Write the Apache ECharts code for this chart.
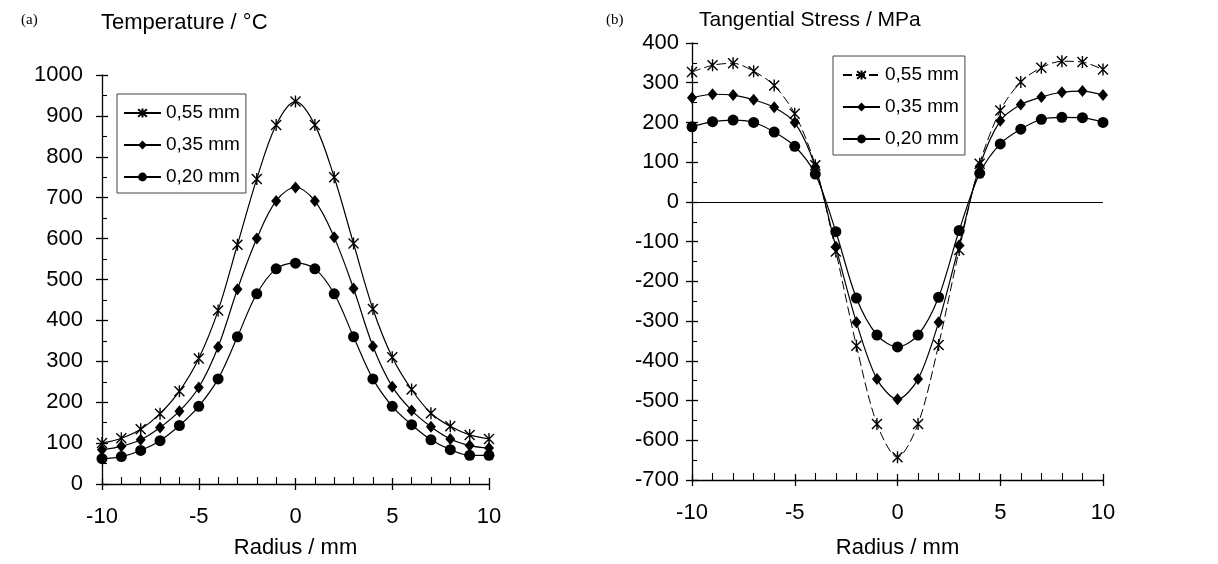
<!DOCTYPE html>
<html>
<head>
<meta charset="utf-8">
<script src="https://cdn.jsdelivr.net/npm/echarts@6/dist/echarts.min.js"></script>
<style>
html,body{margin:0;padding:0;background:#fff;}
#chart{width:1218px;height:564px;}
</style>
</head>
<body>
<div id="chart"></div>
<script>
// ---- data ----
const radius = [-10,-9,-8,-7,-6,-5,-4,-3,-2,-1,0,1,2,3,4,5,6,7,8,9,10];
const seriesNames = ['0,55 mm','0,35 mm','0,20 mm'];
const temp055 = [100,112,134,172,227,307,424,585,746,878,935,878,750,588,428,310,231,173,141,120,110];
const temp035 = [84,92,108,138,178,236,335,476,600,692,725,692,603,478,337,238,180,140,110,94,88];
const temp020 = [62,67,82,106,143,190,257,360,465,526,540,526,465,360,257,190,145,108,84,70,70];
const stress055 = [327,344,349,329,293,222,92,-125,-362,-559,-643,-559,-360,-121,96,230,302,338,354,352,333];
const stress035 = [262,271,269,257,238,200,88,-113,-303,-446,-497,-446,-303,-109,90,204,245,264,276,279,269];
const stress020 = [189,202,206,200,176,140,70,-75,-242,-335,-365,-335,-240,-72,72,146,183,208,213,212,200];
const titleA = 'Temperature / °C';
const titleB = 'Tangential Stress / MPa';
const xName = 'Radius / mm';

const pair = arr => radius.map((r,i)=>[r,arr[i]]);
const FONT = 'Liberation Sans, Arial, sans-serif';
const FS = 22;
const starPath = 'path://M0,0L10,10M10,0L0,10M5,-1L5,11';

function mkSeries(name, data, xi, yi, kind, dashed, smooth){
  const s = {
    name, type:'line', xAxisIndex:xi, yAxisIndex:yi, data:pair(data),
    smooth: smooth, animation:false,
    lineStyle:{color:'#000', width:1.2, type: dashed ? [9,4] : 'solid'},
    symbolKeepAspect:true
  };
  if(kind==='star'){
    s.symbol = starPath; s.symbolSize = 12;
    s.itemStyle = {color:'rgba(0,0,0,0)', borderColor:'#000', borderWidth:1.4};
  } else if(kind==='diamond'){
    s.symbol = 'diamond'; s.symbolSize = [10,12];
    s.itemStyle = {color:'#000', borderWidth:0};
  } else {
    s.symbol = 'circle'; s.symbolSize = 11;
    s.itemStyle = {color:'#000', borderWidth:0};
  }
  return s;
}

function mainX(gi, name, gap){
  return {type:'value', gridIndex:gi, min:-10, max:10, interval:5,
    axisLine:{show:true, onZero:false, lineStyle:{color:'#000', width:1.3}},
    axisTick:{show:true, inside:false, length:6, lineStyle:{color:'#000', width:1.3}},
    splitLine:{show:false},
    axisLabel:{color:'#000', fontFamily:FONT, fontSize:FS, margin:22},
    name:name, nameLocation:'middle', nameGap:gap,
    nameTextStyle:{color:'#000', fontFamily:FONT, fontSize:FS}};
}
function overX(gi){
  return {type:'value', gridIndex:gi, min:-10, max:10, interval:5,
    axisLine:{show:false, onZero:false}, axisLabel:{show:false}, splitLine:{show:false},
    axisTick:{show:true, inside:true, length:6, lineStyle:{color:'#000', width:1.3}},
    minorTick:{show:true, splitNumber:5, length:7, lineStyle:{color:'#000', width:1.1}}};
}
function mainY(gi, min, max, margin){
  return {type:'value', gridIndex:gi, min:min, max:max, interval:100,
    axisLine:{show:true, onZero:false, lineStyle:{color:'#000', width:1.3}},
    axisTick:{show:true, inside:false, length:6, lineStyle:{color:'#000', width:1.3}},
    splitLine:{show:false},
    axisLabel:{color:'#000', fontFamily:FONT, fontSize:FS, margin:margin, formatter:v=>String(v)}};
}
function overY(gi, min, max){
  return {type:'value', gridIndex:gi, min:min, max:max, interval:100,
    axisLine:{show:false, onZero:false}, axisLabel:{show:false}, splitLine:{show:false},
    axisTick:{show:true, inside:true, length:6, lineStyle:{color:'#000', width:1.3}},
    minorTick:{show:true, splitNumber:2, length:5, lineStyle:{color:'#000', width:1.1}}};
}

const gA = {left:102, top:75, width:387, height:409, containLabel:false, outerBoundsMode:'none'};
const gB = {left:692, top:43, width:411, height:437, containLabel:false, outerBoundsMode:'none'};

const legendCommon = {
  orient:'vertical', itemWidth:37, itemHeight:11, itemGap:10,
  borderColor:'#444', borderWidth:1, backgroundColor:'#fff',
  textStyle:{color:'#000', fontFamily:FONT, fontSize:19, lineHeight:22},
  selectedMode:false
};

const option = {
  backgroundColor:'#fff',
  animation:false,
  title:[
    {text:'(a)', left:16, top:8, textStyle:{fontFamily:'Liberation Serif, Times New Roman, serif', fontSize:15, fontWeight:'normal', color:'#000'}},
    {text:titleA, left:96, top:7, textStyle:{fontFamily:FONT, fontSize:22, fontWeight:'normal', color:'#000'}},
    {text:'(b)', left:601, top:8, textStyle:{fontFamily:'Liberation Serif, Times New Roman, serif', fontSize:15, fontWeight:'normal', color:'#000'}},
    {text:titleB, left:694, top:5, textStyle:{fontFamily:FONT, fontSize:21, fontWeight:'normal', color:'#000'}}
  ],
  legend:[
    Object.assign({}, legendCommon, {left:117, top:94, padding:[8,6,5,6],
      data:seriesNames.map(n=>({name:n})),
      formatter:n=>n}),
    Object.assign({}, legendCommon, {left:833, top:56, padding:[8,6,5,9],
      data:seriesNames.map(n=>({name:n+' '})),
      formatter:n=>n.trim()})
  ],
  grid:[
    Object.assign({}, gA), Object.assign({}, gA),
    Object.assign({}, gB), Object.assign({}, gB)
  ],
  xAxis:[ mainX(0, xName, 53), overX(1), mainX(2, xName, 57), overX(3) ],
  yAxis:[ mainY(0, 0, 1000, 19), overY(1, 0, 1000), mainY(2, -700, 400, 13), overY(3, -700, 400) ],
  series:[
    mkSeries(seriesNames[0], temp055, 0, 0, 'star', false, 0.35),
    mkSeries(seriesNames[1], temp035, 0, 0, 'diamond', false, 0.35),
    mkSeries(seriesNames[2], temp020, 0, 0, 'circle', false, 0.35),
    Object.assign(mkSeries(seriesNames[0]+' ', stress055, 2, 2, 'star', true, 0.3), {
      markLine:{silent:true, symbol:['none','none'], label:{show:false},
        lineStyle:{color:'#000', width:1, type:'solid'},
        data:[{yAxis:0}]}
    }),
    mkSeries(seriesNames[1]+' ', stress035, 2, 2, 'diamond', false, 0.3),
    mkSeries(seriesNames[2]+' ', stress020, 2, 2, 'circle', false, 0.3)
  ]
};
option.series[3].lineStyle.width = 1;

const chart = echarts.init(document.getElementById('chart'), null, {renderer:'canvas'});
chart.setOption(option);
</script>
</body>
</html>
